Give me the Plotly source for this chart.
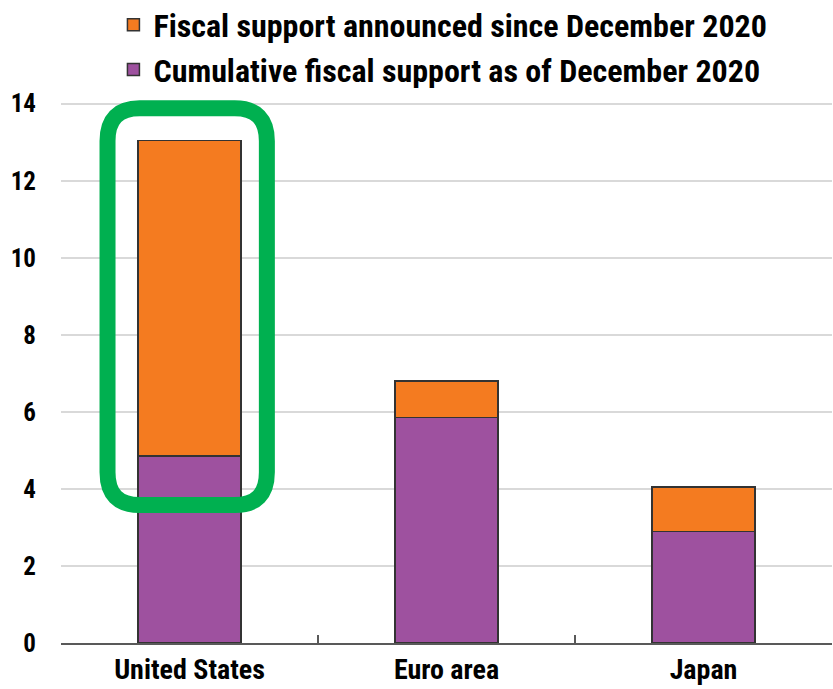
import plotly.graph_objects as go

# Fiscal support, % of GDP
regions = ["United States", "Euro area", "Japan"]
cumulative_dec2020 = [4.85, 5.85, 2.9]
announced_since_dec2020 = [8.2, 0.95, 1.15]

FONT = "Liberation Sans Narrow, Arial Narrow, Roboto Condensed, Liberation Sans, sans-serif"
ORANGE = "#F47B20"
PURPLE = "#9E519F"
EDGE = "#333333"

fig = go.Figure()
fig.add_trace(go.Bar(
    x=regions, y=cumulative_dec2020,
    name="Cumulative fiscal support as of December 2020",
    marker=dict(color=PURPLE, line=dict(color=EDGE, width=1.5)),
    width=0.4,
))
fig.add_trace(go.Bar(
    x=regions, y=announced_since_dec2020,
    name="Fiscal support announced since December 2020",
    marker=dict(color=ORANGE, line=dict(color=EDGE, width=1.5)),
    width=0.4,
))

# Rounded highlight frame around the United States bar (category index 0)
x0, x1 = -0.319, 0.301
y0, y1 = 3.58, 13.88
rx, ry = 0.125, 0.85
frame = (
    f"M {x0 + rx},{y1} L {x1 - rx},{y1} Q {x1},{y1} {x1},{y1 - ry} "
    f"L {x1},{y0 + ry} Q {x1},{y0} {x1 - rx},{y0} "
    f"L {x0 + rx},{y0} Q {x0},{y0} {x0},{y0 + ry} "
    f"L {x0},{y1 - ry} Q {x0},{y1} {x0 + rx},{y1} Z"
)
fig.add_shape(type="path", path=frame, xref="x", yref="y",
              line=dict(color="#00B050", width=16), layer="above")

fig.update_layout(
    width=833, height=689,
    margin=dict(l=61, r=1, t=96, b=46, autoexpand=False),
    barmode="stack",
    plot_bgcolor="white", paper_bgcolor="white",
    font=dict(family=FONT, color="black", size=24),
    showlegend=True,
    legend=dict(
        x=0.068, y=1.18, xanchor="left", yanchor="top",
        traceorder="reversed",
        font=dict(family=FONT, size=32, color="black", weight="bold"),
        bgcolor="rgba(0,0,0,0)", tracegroupgap=0, itemwidth=30,
    ),
    bargap=0.6,
)
fig.update_xaxes(
    type="category",
    showline=True, linecolor="#595959", linewidth=2,
    ticks="inside", tickson="boundaries", ticklen=8, tickcolor="#595959", tickwidth=1.5,
    tickfont=dict(family=FONT, size=28, color="black", weight="bold"),
    showgrid=False,
)
fig.update_yaxes(
    range=[0, 14.2], tickvals=[0, 2, 4, 6, 8, 10, 12, 14],
    showgrid=True, gridcolor="#D9D9D9", gridwidth=1.5,
    zeroline=False, showline=False, ticks="",
    ticklabelstandoff=24,
    tickfont=dict(family=FONT, size=25, color="black", weight="bold"),
)

fig.write_html("out.html")
